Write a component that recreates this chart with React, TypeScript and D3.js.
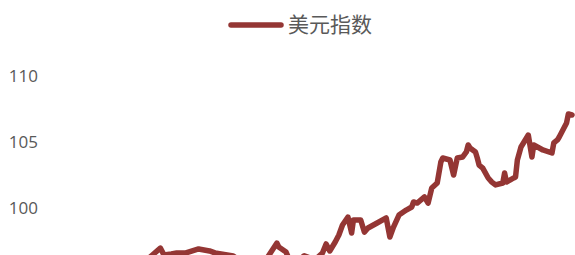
import { useEffect, useRef } from "react";
import * as d3 from "d3";

const WIDTH = 575;
const HEIGHT = 255;

const SERIES_NAME = "美元指数";
const Y_TICKS = [100, 105, 110];

// daily closes (values below ~96 fall under the crop)
const DATES = [
  "2021-10-01", "2021-10-12", "2021-10-28", "2021-11-05", "2021-11-12", "2021-11-16",
  "2021-11-19", "2021-11-24", "2021-11-26", "2021-11-30", "2021-12-03", "2021-12-08",
  "2021-12-15", "2021-12-21", "2021-12-24", "2022-01-03", "2022-01-14", "2022-01-20",
  "2022-01-27", "2022-01-28", "2022-02-01", "2022-02-04", "2022-02-11", "2022-02-17",
  "2022-02-21", "2022-02-23", "2022-02-25", "2022-02-28", "2022-03-02", "2022-03-04",
  "2022-03-07", "2022-03-09", "2022-03-10", "2022-03-14", "2022-03-16", "2022-03-18",
  "2022-03-23", "2022-03-28", "2022-03-30", "2022-04-01", "2022-04-04", "2022-04-08",
  "2022-04-11", "2022-04-12", "2022-04-14", "2022-04-18", "2022-04-20", "2022-04-22",
  "2022-04-25", "2022-04-27", "2022-04-28", "2022-05-02", "2022-05-04", "2022-05-06",
  "2022-05-09", "2022-05-11", "2022-05-12", "2022-05-13", "2022-05-16", "2022-05-17",
  "2022-05-18", "2022-05-20", "2022-05-23", "2022-05-25", "2022-05-27", "2022-05-31",
  "2022-06-01", "2022-06-02", "2022-06-06", "2022-06-07", "2022-06-08", "2022-06-10",
  "2022-06-14", "2022-06-16", "2022-06-17", "2022-06-22", "2022-06-27", "2022-06-28",
  "2022-06-30", "2022-07-01", "2022-07-05", "2022-07-06", "2022-07-08",
];

const VALUES = [
  94.0, 94.5, 93.3, 94.3, 95.1, 95.9,
  96.29, 96.89, 96.36, 96.44, 96.52, 96.52,
  96.82, 96.67, 96.52, 96.29, 95.2, 95.8,
  97.27, 96.97, 96.59, 95.6, 96.3, 96.0,
  96.52, 97.2, 96.67, 97.35, 97.88, 98.64,
  99.24, 98.03, 99.02, 99.02, 98.1, 98.41,
  98.79, 99.17, 97.73, 98.48, 99.39, 99.77,
  100.0, 100.38, 100.3, 100.76, 100.3, 101.44,
  101.82, 103.41, 103.71, 103.56, 102.42, 103.71,
  103.79, 104.17, 104.7, 104.47, 104.17, 103.71,
  103.18, 102.95, 102.2, 101.89, 101.67, 101.82,
  102.58, 101.89, 102.2, 102.27, 103.56, 104.55,
  105.45, 103.79, 104.7, 104.32, 104.09, 104.85,
  105.08, 105.3, 106.36, 107.05, 106.97,
];

const COLOR_LINE = "#943634";
const COLOR_TEXT = "#595959";

export default function App() {
  const svgRef = useRef<SVGSVGElement>(null);

  useEffect(() => {
    document.body.style.margin = "0";

    const svg = d3.select(svgRef.current);
    svg.selectAll("*").remove();

    const parse = d3.timeParse("%Y-%m-%d");
    const data = DATES.map((d, i) => ({ date: parse(d) as Date, value: VALUES[i] }));

    const x = d3
      .scaleTime()
      .domain([parse("2021-10-01") as Date, parse("2022-07-08") as Date])
      .range([62, 572]);

    const y = d3.scaleLinear().domain([92, 110]).range([312.6, 75]);

    // y tick labels, no axis line
    Y_TICKS.forEach((t) => {
      svg
        .append("text")
        .attr("x", 38)
        .attr("y", y(t))
        .attr("text-anchor", "end")
        .attr("dominant-baseline", "central")
        .attr("font-size", "17px")
        .attr("font-family", "'Open Sans', sans-serif")
        .attr("fill", COLOR_TEXT)
        .text(t);
    });

    const line = d3
      .line<{ date: Date; value: number }>()
      .x((d) => x(d.date))
      .y((d) => y(d.value));

    svg
      .append("path")
      .datum(data)
      .attr("d", line)
      .attr("fill", "none")
      .attr("stroke", COLOR_LINE)
      .attr("stroke-width", 5.5)
      .attr("stroke-linejoin", "round")
      .attr("stroke-linecap", "round");

    // legend
    svg
      .append("line")
      .attr("x1", 231)
      .attr("x2", 281)
      .attr("y1", 25)
      .attr("y2", 25)
      .attr("stroke", COLOR_LINE)
      .attr("stroke-width", 5.5)
      .attr("stroke-linecap", "round");

    svg
      .append("text")
      .attr("x", 288)
      .attr("y", 23)
      .attr("dominant-baseline", "central")
      .attr("font-size", "21px")
      .attr("font-family", "'Noto Sans CJK SC', sans-serif")
      .attr("fill", COLOR_TEXT)
      .text(SERIES_NAME);
  }, []);

  return (
    <svg
      ref={svgRef}
      width={WIDTH}
      height={HEIGHT}
      style={{ display: "block", overflow: "hidden", background: "#fff" }}
    />
  );
}
